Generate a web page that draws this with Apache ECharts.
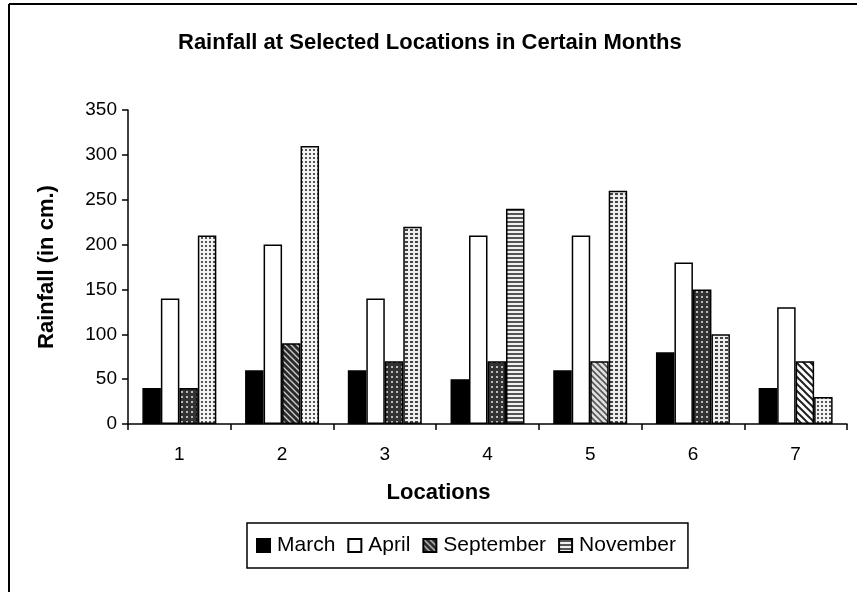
<!DOCTYPE html>
<html>
<head>
<meta charset="utf-8">
<script src="https://cdn.jsdelivr.net/npm/echarts@6/dist/echarts.min.js"></script>
<style>
html,body{margin:0;padding:0;background:#fff;}
#chart{width:857px;height:592px;}
</style>
</head>
<body>
<div id="chart"></div>
<script>
const categories = ['1', '2', '3', '4', '5', '6', '7'];
const march = [40, 60, 60, 50, 60, 80, 40];
const april = [140, 200, 140, 210, 210, 180, 130];
const september = [40, 90, 70, 70, 70, 150, 70];
const november = [210, 310, 220, 240, 260, 100, 30];
const yTicks = [0, 50, 100, 150, 200, 250, 300, 350];

function makePattern(kind) {
  const c = document.createElement('canvas');
  const ctx = c.getContext('2d');
  if (kind === 'sepDiag') {
    c.width = 6; c.height = 6;
    ctx.fillStyle = '#2a2a2a'; ctx.fillRect(0, 0, 6, 6);
    ctx.strokeStyle = '#cfcfcf'; ctx.lineWidth = 1.3;
    ctx.beginPath(); ctx.moveTo(0, 0); ctx.lineTo(6, 6);
    ctx.moveTo(-3, 3); ctx.lineTo(3, 9); ctx.moveTo(3, -3); ctx.lineTo(9, 3); ctx.stroke();
  } else if (kind === 'sepDots') {
    c.width = 5; c.height = 5;
    ctx.fillStyle = '#333'; ctx.fillRect(0, 0, 5, 5);
    ctx.fillStyle = '#bbb'; ctx.fillRect(1, 1, 2, 2);
  } else if (kind === 'sepLight') {
    c.width = 6; c.height = 6;
    ctx.fillStyle = '#e0e0e0'; ctx.fillRect(0, 0, 6, 6);
    ctx.strokeStyle = '#555'; ctx.lineWidth = 1.6;
    ctx.beginPath(); ctx.moveTo(0, 0); ctx.lineTo(6, 6);
    ctx.moveTo(-3, 3); ctx.lineTo(3, 9); ctx.moveTo(3, -3); ctx.lineTo(9, 3); ctx.stroke();
  } else if (kind === 'sepStripe') {
    c.width = 7; c.height = 7;
    ctx.fillStyle = '#fff'; ctx.fillRect(0, 0, 7, 7);
    ctx.strokeStyle = '#222'; ctx.lineWidth = 2;
    ctx.beginPath(); ctx.moveTo(0, 0); ctx.lineTo(7, 7);
    ctx.moveTo(-3.5, 3.5); ctx.lineTo(3.5, 10.5); ctx.moveTo(3.5, -3.5); ctx.lineTo(10.5, 3.5); ctx.stroke();
  } else if (kind === 'novDots') {
    c.width = 4; c.height = 4;
    ctx.fillStyle = '#f4f4f4'; ctx.fillRect(0, 0, 4, 4);
    ctx.fillStyle = '#555'; ctx.fillRect(1, 1, 2, 2);
  } else if (kind === 'novGrid') {
    c.width = 5; c.height = 4;
    ctx.fillStyle = '#eee'; ctx.fillRect(0, 0, 5, 4);
    ctx.fillStyle = '#444'; ctx.fillRect(0, 1, 3, 2);
  } else if (kind === 'novHoriz') {
    c.width = 4; c.height = 4;
    ctx.fillStyle = '#f0f0f0'; ctx.fillRect(0, 0, 4, 4);
    ctx.fillStyle = '#555'; ctx.fillRect(0, 1, 4, 2);
  }
  return { image: c, repeat: 'repeat' };
}

const sepKinds = ['sepDots', 'sepDiag', 'sepDots', 'sepDots', 'sepLight', 'sepDots', 'sepStripe'];
const novKinds = ['novDots', 'novDots', 'novGrid', 'novHoriz', 'novGrid', 'novGrid', 'novDots'];

const chart = echarts.init(document.getElementById('chart'), null, { renderer: 'canvas' });
const FONT = 'Liberation Sans, Arial, sans-serif';
const border = { borderColor: '#000', borderWidth: 1.5 };

const option = {
  backgroundColor: '#fff',
  animation: false,
  title: {
    text: 'Rainfall at Selected Locations in Certain Months',
    left: 173, top: 27,
    textStyle: { fontFamily: FONT, fontSize: 22, fontWeight: 'bold', color: '#000' }
  },
  graphic: [
    { type: 'line', shape: { x1: 9, y1: 4, x2: 857, y2: 4 }, style: { stroke: '#000', lineWidth: 2 } },
    { type: 'line', shape: { x1: 9, y1: 4, x2: 9, y2: 592 }, style: { stroke: '#000', lineWidth: 2 } }
  ],
  legend: {
    left: 247, top: 523,
    itemWidth: 13, itemHeight: 13, itemGap: 12,
    padding: [12, 12, 12, 9],
    borderColor: '#000', borderWidth: 1.5,
    icon: 'rect',
    textStyle: { fontFamily: FONT, fontSize: 21, color: '#000', padding: [0, 0, 0, 2] },
    data: ['March', 'April', 'September', 'November']
  },
  grid: { left: 128, right: 10, top: 110, bottom: 168 },
  xAxis: {
    type: 'category',
    data: categories,
    name: 'Locations', nameLocation: 'middle', nameGap: 58,
    nameTextStyle: { fontFamily: FONT, fontSize: 22, fontWeight: 'bold', color: '#000', padding: [0, 98, 0, 0] },
    axisLine: { lineStyle: { color: '#000', width: 1.5 } },
    axisTick: { show: true, inside: false, length: 6, lineStyle: { color: '#000', width: 1.5 } },
    axisLabel: { fontFamily: FONT, fontSize: 19, color: '#000', margin: 21 }
  },
  yAxis: {
    type: 'value', min: 0, max: 350, interval: 50,
    name: 'Rainfall (in cm.)', nameLocation: 'middle', nameGap: 70,
    nameTextStyle: { fontFamily: FONT, fontSize: 22, fontWeight: 'bold', color: '#000' },
    axisLine: { show: true, lineStyle: { color: '#000', width: 1.5 } },
    axisTick: { show: true, length: 6, lineStyle: { color: '#000', width: 1.5 } },
    splitLine: { show: false },
    axisLabel: {
      fontFamily: FONT, fontSize: 19, color: '#000', margin: 11,
      formatter: function (v) { return yTicks.indexOf(v) >= 0 ? String(v) : ''; }
    }
  },
  series: [
    { name: 'March', type: 'bar', data: march, barGap: '0%', barCategoryGap: '28%',
      itemStyle: Object.assign({ color: '#000' }, border) },
    { name: 'April', type: 'bar', data: april,
      itemStyle: Object.assign({ color: '#fff' }, border) },
    { name: 'September', type: 'bar',
      data: september.map((v, i) => ({ value: v, itemStyle: { color: makePattern(sepKinds[i]) } })),
      itemStyle: Object.assign({ color: makePattern('sepDiag') }, border) },
    { name: 'November', type: 'bar',
      data: november.map((v, i) => ({ value: v, itemStyle: { color: makePattern(novKinds[i]) } })),
      itemStyle: Object.assign({ color: makePattern('novHoriz') }, border) }
  ]
};
chart.setOption(option);
</script>
</body>
</html>
